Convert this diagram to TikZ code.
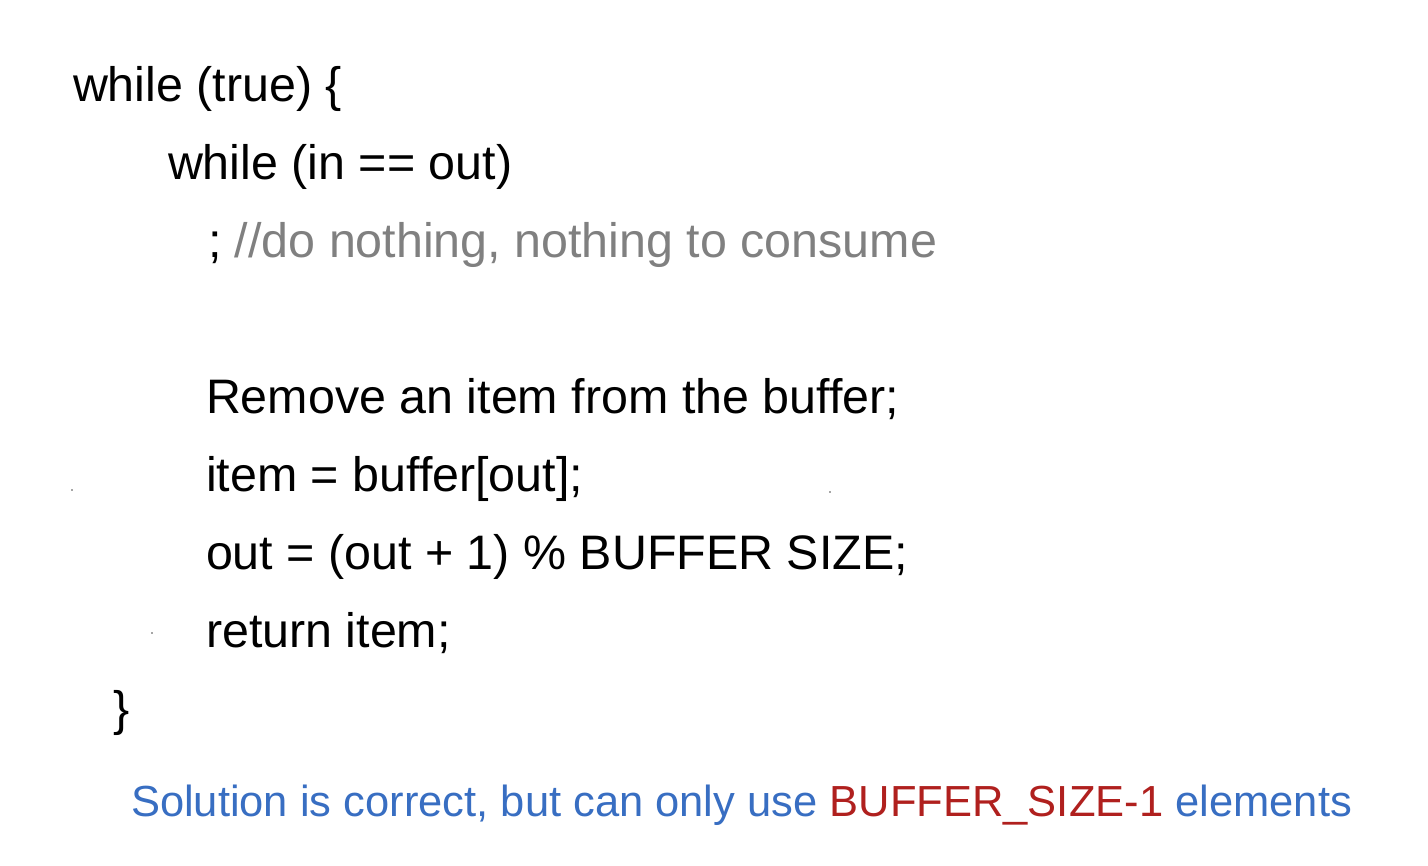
\documentclass[tikz,border=0pt]{standalone}
\usepackage{fontspec}
\setmainfont{Liberation Sans}
\definecolor{cgray}{RGB}{128,128,128}
\definecolor{cblue}{RGB}{56,110,194}
\definecolor{cred}{RGB}{176,32,30}
\tikzset{
  codeline/.style={anchor=base west, inner sep=0pt, outer sep=0pt, font=\fontsize{48.4}{58}\selectfont},
  noteline/.style={anchor=base west, inner sep=0pt, outer sep=0pt, font=\fontsize{43.5}{52}\selectfont},
  speck/.style={fill=black!70, draw=none}
}
\begin{document}
\begin{tikzpicture}[x=1pt,y=-1pt]
\useasboundingbox[fill=white] (0,0) rectangle (1428,866);
\node[codeline] (l1) at (73,102) {while (true) \{};
\node[codeline] (l2) at (168,180) {while (in == out)};
\node[codeline] (l3) at (208,258) {; \textcolor{cgray}{//do nothing, nothing to consume}};
\node[codeline] (l4) at (206,414) {Remove an item from the buffer;};
\node[codeline] (l5) at (206,492) {item = buffer[out];};
\node[codeline] (l6) at (206,569) {out = (out + 1) \% BUFFER SIZE;};
\node[codeline] (l7) at (206,647) {return item;};
\node[codeline] (l8) at (113,725) {\}};
\node[noteline] (note) at (131,816) {\textcolor{cblue}{Solution is correct, but can only use} \textcolor{cred}{BUFFER\_SIZE-1} \textcolor{cblue}{elements}};
\fill[speck] (72,490) circle (0.8);
\fill[speck] (830,492) circle (0.8);
\fill[speck] (152,633) circle (0.8);
\end{tikzpicture}
\end{document}
